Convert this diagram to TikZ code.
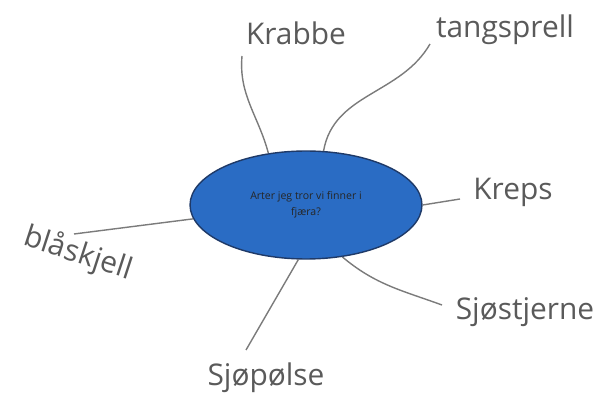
\documentclass[tikz,border=0pt]{standalone}
\usepackage{fontspec}
\setmainfont{Open Sans}
\usetikzlibrary{shapes.geometric}
\definecolor{oceanblue}{HTML}{2A6CC4}
\definecolor{navyrim}{HTML}{1F3A68}
\definecolor{pencil}{HTML}{5A5A5A}

\begin{document}
\begin{tikzpicture}[x=0.02cm, y=-0.02cm,
        word/.style={text=pencil, inner sep=1pt, font=\fontsize{17}{20}\selectfont},
        twig/.style={draw=pencil!80, line width=0.8pt}]
                \useasboundingbox (0,0) rectangle (613,405);
                \node[ellipse, draw=navyrim, fill=oceanblue, line width=0.8pt,
                      minimum width=4.64cm, minimum height=2.16cm,
                      inner sep=0pt, align=center, font=\fontsize{6}{9}\selectfont, text=black!85]
                      (fjaera) at (306,205) {Arter jeg tror vi finner i\\fjæra?};
                \node[word] (krabbe) at (296,33) {Krabbe};
                \node[word] (tangsprell) at (505,30) {tangsprell};
                \node[word] (kreps) at (513,192) {Kreps};
                \node[word] (sjostjerne) at (525,312) {Sjøstjerne};
                \node[word] (sjopolse) at (266,378) {Sjøpølse};
                \node[word, rotate=-18] (blaskjell) at (78,254) {blåskjell};
                \coordinate (krabbeEnd) at (242,56);
                \coordinate (tangEnd) at (430,44);
                \coordinate (krepsEnd) at (460,199);
                \coordinate (stjerneEnd) at (442,305);
                \coordinate (polseEnd) at (246,350);
                \coordinate (skjellEnd) at (74,234);
                \draw[twig] (fjaera.126) to[out=105,in=-95] (krabbeEnd);
                \draw[twig] (fjaera.72) to[out=80,in=-120] (tangEnd);
                \draw[twig] (fjaera.east) -- (krepsEnd);
                \draw[twig] (fjaera.-55) to[out=-40,in=160] (stjerneEnd);
                \draw[twig] (fjaera.-98) -- (polseEnd);
                \draw[twig] (fjaera.187) -- (skjellEnd);
            \end{tikzpicture}
\end{document}
